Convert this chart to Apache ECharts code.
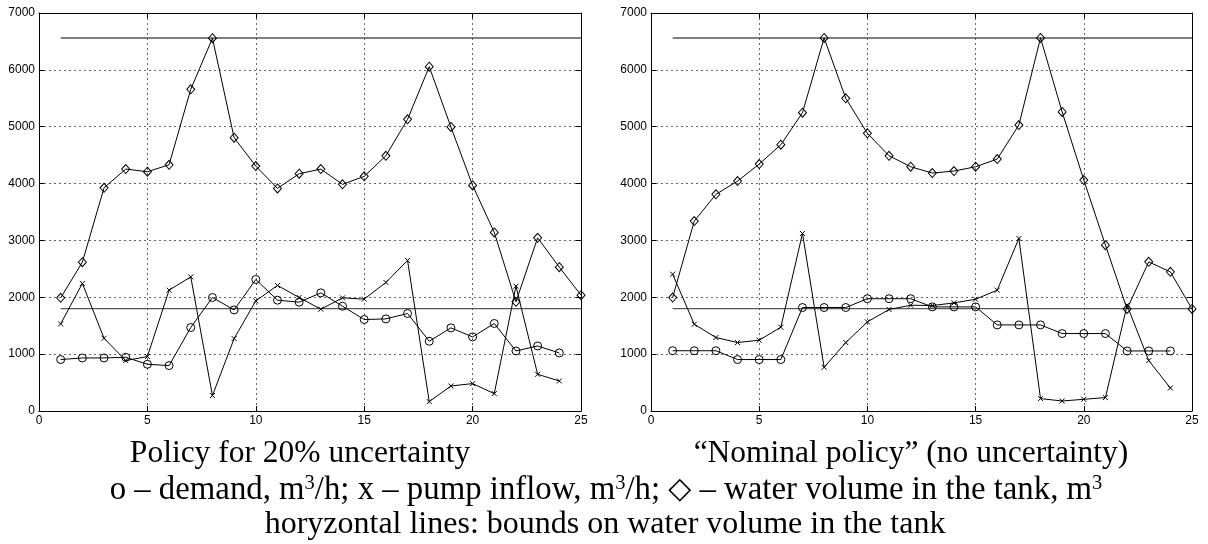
<!DOCTYPE html>
<html>
<head>
<meta charset="utf-8">
<script src="https://cdn.jsdelivr.net/npm/echarts@6/dist/echarts.min.js"></script>
<style>
  html, body { margin: 0; padding: 0; background: #fff; }
  #chart { width: 1208px; height: 544px; }
</style>
</head>
<body>
<div id="chart"></div>
<script>
// ---- data ----
const hours = [1,2,3,4,5,6,7,8,9,10,11,12,13,14,15,16,17,18,19,20,21,22,23,24];
const hoursVolume = [1,2,3,4,5,6,7,8,9,10,11,12,13,14,15,16,17,18,19,20,21,22,23,24,25];
const boundRange = [1, 25];
const upperBound = 6560;
const lowerBound = 1800;

// Left: policy for 20% uncertainty
const robustDemand = [905, 933, 933, 945, 822, 799, 1468, 1996, 1778, 2313, 1949, 1914, 2078, 1843, 1609, 1620, 1715, 1227, 1462, 1303, 1539, 1056, 1144, 1021];
const robustPump = [1532, 2243, 1280, 887, 958, 2125, 2359, 271, 1274, 1937, 2208, 1996, 1790, 1990, 1967, 2261, 2648, 165, 440, 482, 306, 2195, 646, 528];
const robustVolume = [1990, 2618, 3926, 4255, 4208, 4331, 5658, 6556, 4806, 4308, 3915, 4173, 4255, 3986, 4127, 4489, 5130, 6056, 4995, 3968, 3141, 1920, 3046, 2530, 2037];

// Right: nominal policy (no uncertainty)
const nominalDemand = [1060, 1060, 1060, 905, 905, 905, 1820, 1820, 1820, 1975, 1975, 1975, 1831, 1831, 1831, 1514, 1514, 1514, 1362, 1362, 1362, 1056, 1056, 1056];
const nominalPump = [2407, 1526, 1292, 1204, 1245, 1474, 3123, 769, 1204, 1567, 1785, 1860, 1855, 1901, 1966, 2125, 3035, 218, 176, 206, 236, 1861, 887, 405];
const nominalVolume = [1995, 3340, 3810, 4044, 4343, 4683, 5246, 6562, 5500, 4884, 4489, 4296, 4185, 4220, 4296, 4431, 5030, 6562, 5259, 4062, 2917, 1795, 2623, 2447, 1795];

const xTicks = { min: 0, max: 25, interval: 5 };
const yTicks = { min: 0, max: 7000, interval: 1000 };

const captionLeft = 'Policy for 20% uncertainty';
const captionRight = '\u201CNominal policy\u201D (no uncertainty)';
const captionLine2 = 'o \u2013 demand, m{sup|3}/h; x \u2013 pump inflow, m{sup|3}/h; {dia|\u25C7} \u2013 water volume in the tank, m{sup|3}';
const captionLine3 = 'horyzontal lines: bounds on water volume in the tank';

// ---- chart ----
const zip = (xs, ys) => xs.map((x, i) => [x, ys[i]]);
const grids = [
  { left: 39, top: 13, width: 542, height: 398 },
  { left: 651, top: 13, width: 541, height: 398 }
];
const labelFont = { color: '#000', fontSize: 12, fontFamily: 'Liberation Sans, Arial, sans-serif' };
const gridLine = { show: true, lineStyle: { type: [2, 3], color: '#666', width: 1 } };
const axisLine = { show: true, onZero: false, lineStyle: { color: '#000', width: 1 } };
const tick = { show: true, inside: true, length: 5, lineStyle: { color: '#000', width: 1 } };
const plain = v => String(v);

const xAxes = [], yAxes = [];
grids.forEach((g, gi) => {
  xAxes.push({ type: 'value', gridIndex: gi, position: 'bottom', ...xTicks,
    axisLine, axisTick: tick, splitLine: gridLine,
    axisLabel: { ...labelFont, margin: 4, formatter: plain, showMinLabel: true, showMaxLabel: true } });
  xAxes.push({ type: 'value', gridIndex: gi, position: 'top', ...xTicks,
    axisLine, axisTick: tick, splitLine: { show: false }, axisLabel: { show: false } });
  yAxes.push({ type: 'value', gridIndex: gi, position: 'left', ...yTicks,
    axisLine, axisTick: tick, splitLine: gridLine,
    axisLabel: { ...labelFont, margin: 4, formatter: plain, showMinLabel: true, showMaxLabel: true } });
  yAxes.push({ type: 'value', gridIndex: gi, position: 'right', ...yTicks,
    axisLine, axisTick: tick, splitLine: { show: false }, axisLabel: { show: false } });
});

const xPath = 'path://M0,0L10,10M10,0L0,10';
function markSeries(gi, data, symbol, size) {
  return {
    type: 'line', xAxisIndex: gi * 2, yAxisIndex: gi * 2, data,
    symbol, symbolSize: size, showAllSymbol: true, animation: false, silent: true,
    lineStyle: { color: '#000', width: 1 },
    itemStyle: { color: 'rgba(0,0,0,0)', borderColor: '#000', borderWidth: 1 },
    z: 3
  };
}
function boundSeries(gi, value) {
  return {
    type: 'line', xAxisIndex: gi * 2, yAxisIndex: gi * 2,
    data: boundRange.map(x => [x, value]), symbol: 'none', animation: false, silent: true,
    lineStyle: { color: '#555', width: 1.4 }, z: 2
  };
}

const series = [];
[[robustDemand, robustPump, robustVolume], [nominalDemand, nominalPump, nominalVolume]].forEach((set, gi) => {
  series.push(boundSeries(gi, upperBound));
  series.push(boundSeries(gi, lowerBound));
  series.push(markSeries(gi, zip(hours, set[0]), 'circle', 8));
  series.push(markSeries(gi, zip(hours, set[1]), xPath, 5));
  series.push(markSeries(gi, zip(hoursVolume, set[2]), 'diamond', [8, 9]));
});

const serif = 'Liberation Serif, Times New Roman, serif';
const capFont = { fill: '#000', fontSize: 32, fontFamily: serif, align: 'center', verticalAlign: 'middle' };
const rich = {
  sup: { fontSize: 20.5, fontFamily: serif, fill: '#000', verticalAlign: 'top', lineHeight: 20 },
  dia: { fontSize: 30, fontFamily: 'DejaVu Sans, sans-serif', fill: '#000' }
};
const chart = echarts.init(document.getElementById('chart'), null, { renderer: 'canvas' });
chart.setOption({
  backgroundColor: '#fff',
  animation: false,
  grid: grids,
  xAxis: xAxes,
  yAxis: yAxes,
  series,
  graphic: [
    { type: 'text', x: 300, y: 454, style: { ...capFont, fontSize: 31.5, text: captionLeft } },
    { type: 'text', x: 911, y: 454, style: { ...capFont, fontSize: 31.5, text: captionRight } },
    { type: 'text', x: 606, y: 490, style: { ...capFont, fontSize: 32.8, text: captionLine2, rich } },
    { type: 'text', x: 605, y: 525, style: { ...capFont, text: captionLine3 } }
  ]
});
</script>
</body>
</html>
